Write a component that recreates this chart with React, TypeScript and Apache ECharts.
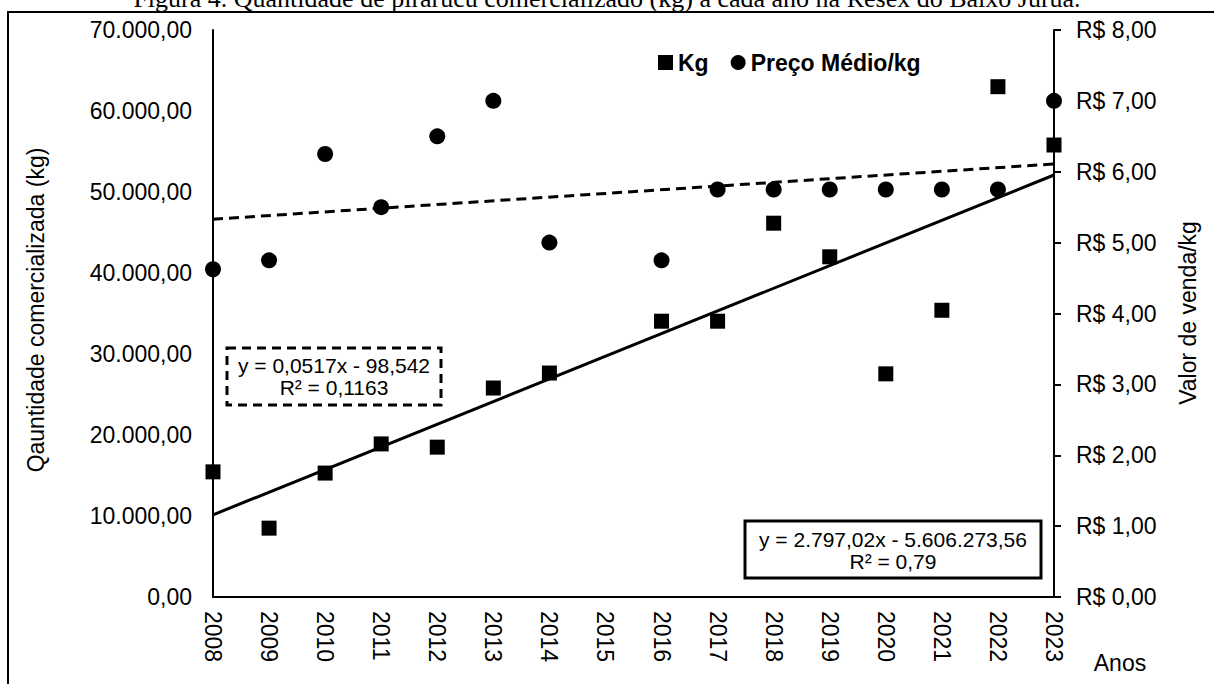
import React, { useEffect, useRef } from "react";
import * as echarts from "echarts";

const years = [2008, 2009, 2010, 2011, 2012, 2013, 2014, 2016, 2017, 2018, 2019, 2020, 2021, 2022, 2023];
const kgValues = [15450, 8500, 15300, 18900, 18500, 25800, 27650, 34050, 34050, 46150, 42000, 27550, 35400, 63000, 55800];
const priceValues = [4.625, 4.75, 6.25, 5.5, 6.5, 7.0, 5.0, 4.75, 5.75, 5.75, 5.75, 5.75, 5.75, 5.75, 7.0];
const trendYears = [2008, 2023];
const kgTrend = [10142.6, 52097.9];
const priceTrend = [5.33, 6.11];

const titleText = "Figura 4. Quantidade de pirarucu comercializado (kg) a cada ano na Resex do Baixo Juruá.";
const leftAxisName = "Qauntidade comercializada (kg)";
const rightAxisName = "Valor de venda/kg";
const xAxisName = "Anos";
const priceEq = ["y = 0,0517x - 98,542", "R² = 0,1163"];
const kgEq = ["y = 2.797,02x - 5.606.273,56", "R² = 0,79"];

const FONT = "Liberation Sans, Arial, sans-serif";

function fmtBR(v: number): string {
  const fixed = v.toFixed(2);
  const [intPart, dec] = fixed.split(".");
  const withDots = intPart.replace(/\B(?=(\d{3})+(?!\d))/g, ".");
  return withDots + "," + dec;
}

export default function App() {
  const ref = useRef<HTMLDivElement>(null);
  useEffect(() => {
    if (!ref.current) return;
    const chart = echarts.init(ref.current, undefined, { renderer: "svg" });
    const kgData = years.map((y, i) => [y, kgValues[i]]);
    const priceData = years.map((y, i) => [y, priceValues[i]]);
    chart.setOption({
      animation: false,
      backgroundColor: "#ffffff",
      grid: { left: 213, right: 160, top: 30, bottom: 87, containLabel: false },
      legend: {
        data: [
          { name: "Kg", icon: "rect" },
          { name: "Preço Médio/kg", icon: "circle" },
        ],
        left: 653,
        top: 46,
        itemWidth: 15,
        itemHeight: 15,
        itemGap: 22,
        textStyle: { fontFamily: FONT, fontSize: 23, fontWeight: "bold", color: "#000" },
      },
      xAxis: {
        type: "value",
        min: 2008,
        max: 2023,
        interval: 1,
        axisLine: { show: true, lineStyle: { color: "#000", width: 2 } },
        axisTick: { show: false },
        splitLine: { show: false },
        axisLabel: {
          rotate: -90,
          margin: 14,
          color: "#000",
          fontFamily: FONT,
          fontSize: 23,
          formatter: (v: number) => String(v),
        },
      },
      yAxis: [
        {
          type: "value",
          min: 0,
          max: 70000,
          interval: 10000,
          position: "left",
          axisLine: { show: true, lineStyle: { color: "#000", width: 2 } },
          axisTick: { show: false },
          splitLine: { show: false },
          axisLabel: {
            margin: 21,
            color: "#000",
            fontFamily: FONT,
            fontSize: 23,
            formatter: (v: number) => fmtBR(v),
          },
        },
        {
          type: "value",
          min: 0,
          max: 8,
          interval: 1,
          position: "right",
          axisLine: { show: true, lineStyle: { color: "#000", width: 2 } },
          axisTick: { show: true, inside: false, length: 7, lineStyle: { color: "#000", width: 2 } },
          splitLine: { show: false },
          axisLabel: {
            margin: 22,
            color: "#000",
            fontFamily: FONT,
            fontSize: 23,
            formatter: (v: number) => "R$ " + fmtBR(v),
          },
        },
      ],
      series: [
        {
          name: "Kg trend",
          type: "line",
          yAxisIndex: 0,
          data: trendYears.map((y, i) => [y, kgTrend[i]]),
          symbol: "none",
          lineStyle: { color: "#000", width: 3, type: "solid" },
          z: 3,
        },
        {
          name: "Preço trend",
          type: "line",
          yAxisIndex: 1,
          data: trendYears.map((y, i) => [y, priceTrend[i]]),
          symbol: "none",
          lineStyle: { color: "#000", width: 3, type: [10, 6] },
          z: 3,
        },
        {
          name: "Kg",
          type: "scatter",
          yAxisIndex: 0,
          data: kgData,
          symbol: "rect",
          symbolSize: 15,
          itemStyle: { color: "#000", opacity: 1 },
          z: 4,
        },
        {
          name: "Preço Médio/kg",
          type: "scatter",
          yAxisIndex: 1,
          data: priceData,
          symbol: "circle",
          symbolSize: 16,
          itemStyle: { color: "#000", opacity: 1 },
          z: 4,
        },
      ],
      graphic: [
        {
          type: "rect",
          shape: { x: 8, y: 12, width: 1230, height: 700 },
          style: { fill: "none", stroke: "#000", lineWidth: 2 },
          silent: true,
          z: 0,
        },
        {
          type: "text",
          x: 607,
          y: 11,
          style: {
            text: titleText,
            fontFamily: "Liberation Serif, Times New Roman, serif",
            fontSize: 26,
            fill: "#000",
            align: "center",
            verticalAlign: "bottom",
          },
        },
        {
          type: "text",
          x: 36,
          y: 310,
          rotation: Math.PI / 2,
          style: {
            text: leftAxisName,
            fontFamily: FONT,
            fontSize: 23,
            fill: "#000",
            align: "center",
            verticalAlign: "middle",
          },
        },
        {
          type: "text",
          x: 1188,
          y: 313,
          rotation: Math.PI / 2,
          style: {
            text: rightAxisName,
            fontFamily: FONT,
            fontSize: 23,
            fill: "#000",
            align: "center",
            verticalAlign: "middle",
          },
        },
        {
          type: "text",
          x: 1120,
          y: 663,
          style: {
            text: xAxisName,
            fontFamily: FONT,
            fontSize: 23,
            fill: "#000",
            align: "center",
            verticalAlign: "middle",
          },
        },
        {
          type: "rect",
          shape: { x: 227, y: 348, width: 214, height: 57 },
          style: { fill: "#fff", stroke: "#000", lineWidth: 3, lineDash: [9, 6] },
          z: 10,
        },
        {
          type: "text",
          x: 334,
          y: 376,
          z: 11,
          style: {
            text: priceEq.join("\n"),
            fontFamily: FONT,
            fontSize: 21,
            lineHeight: 22,
            fill: "#000",
            align: "center",
            verticalAlign: "middle",
          },
        },
        {
          type: "rect",
          shape: { x: 745, y: 521, width: 296, height: 57 },
          style: { fill: "#fff", stroke: "#000", lineWidth: 3 },
          z: 10,
        },
        {
          type: "text",
          x: 893,
          y: 550,
          z: 11,
          style: {
            text: kgEq.join("\n"),
            fontFamily: FONT,
            fontSize: 21,
            lineHeight: 22,
            fill: "#000",
            align: "center",
            verticalAlign: "middle",
          },
        },
      ],
    });
    return () => chart.dispose();
  }, []);
  return (
    <div
      ref={ref}
      style={{ position: "fixed", left: 0, top: 0, width: 1214, height: 684, background: "#fff" }}
    />
  );
}
